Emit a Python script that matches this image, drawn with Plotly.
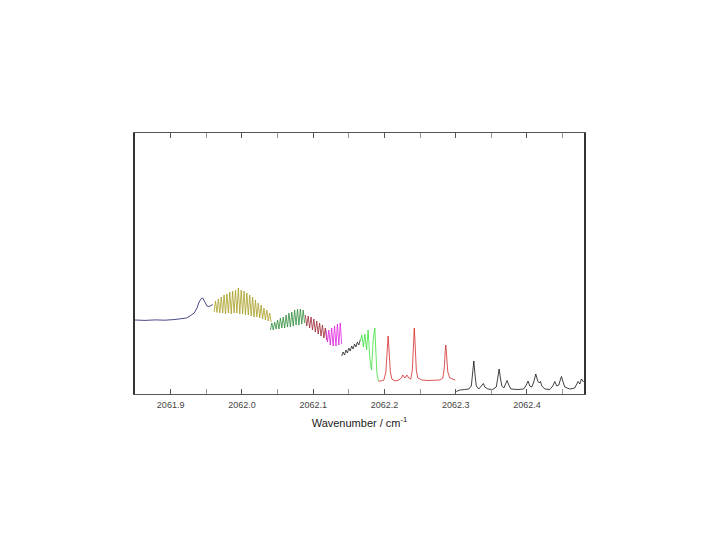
import plotly.graph_objects as go

# ---- data (wavenumber / cm-1, intensity in arbitrary units) ----
seg1_x = [2061.850, 2061.864, 2061.878, 2061.892, 2061.906, 2061.916, 2061.922, 2061.927, 2061.933,
          2061.937, 2061.940, 2061.943, 2061.945, 2061.948, 2061.951, 2061.954, 2061.957, 2061.959]
seg1_y = [0.74, 0.736, 0.741, 0.738, 0.745, 0.75, 0.76, 0.78, 0.81,
          0.86, 0.92, 0.955, 0.96, 0.92, 0.88, 0.875, 0.89, 0.895]

seg2_x = [2061.961, 2061.963, 2061.965, 2061.967, 2061.969, 2061.971, 2061.973, 2061.975, 2061.977,
          2061.979, 2061.981, 2061.983, 2061.985, 2061.987, 2061.989, 2061.991, 2061.993, 2061.995,
          2061.997, 2061.999, 2062.001, 2062.003, 2062.005, 2062.007, 2062.009, 2062.011, 2062.013,
          2062.015, 2062.017, 2062.019, 2062.021, 2062.023, 2062.025, 2062.027, 2062.029, 2062.031,
          2062.033, 2062.035, 2062.037, 2062.039, 2062.041]
seg2_y = [0.82, 0.93, 0.815, 0.95, 0.81, 0.97, 0.81, 0.99, 0.80,
          1.00, 0.81, 1.02, 0.80, 1.03, 0.81, 1.04, 0.81, 1.06,
          0.80, 1.04, 0.80, 1.03, 0.79, 1.01, 0.79, 0.99, 0.78,
          0.97, 0.77, 0.94, 0.77, 0.91, 0.76, 0.89, 0.75, 0.86,
          0.74, 0.84, 0.73, 0.81, 0.72]

seg3_x = [2062.040, 2062.042, 2062.044, 2062.046, 2062.048, 2062.050, 2062.052, 2062.054, 2062.056,
          2062.058, 2062.060, 2062.062, 2062.064, 2062.066, 2062.068, 2062.070, 2062.072, 2062.074,
          2062.076, 2062.078, 2062.080, 2062.082, 2062.084, 2062.086, 2062.088]
seg3_y = [0.64, 0.71, 0.64, 0.72, 0.65, 0.74, 0.65, 0.76, 0.66,
          0.77, 0.66, 0.79, 0.67, 0.81, 0.67, 0.82, 0.68, 0.84,
          0.69, 0.85, 0.69, 0.85, 0.70, 0.84, 0.71]

seg4_x = [2062.089, 2062.091, 2062.093, 2062.095, 2062.097, 2062.099, 2062.101, 2062.103,
          2062.105, 2062.107, 2062.109, 2062.111, 2062.113, 2062.115, 2062.117, 2062.119]
seg4_y = [0.79, 0.68, 0.78, 0.66, 0.77, 0.64, 0.75, 0.62,
          0.73, 0.60, 0.71, 0.58, 0.69, 0.56, 0.66, 0.54]

seg5_x = [2062.118, 2062.120, 2062.122, 2062.124, 2062.126, 2062.128, 2062.130, 2062.132,
          2062.134, 2062.136, 2062.138, 2062.140]
seg5_y = [0.64, 0.52, 0.64, 0.49, 0.66, 0.48, 0.68, 0.48,
          0.70, 0.49, 0.71, 0.50]

seg6_x = [2062.140, 2062.142, 2062.144, 2062.146, 2062.148, 2062.150, 2062.152, 2062.154,
          2062.156, 2062.158, 2062.160, 2062.162, 2062.164, 2062.166]
seg6_y = [0.38, 0.42, 0.39, 0.44, 0.41, 0.46, 0.43, 0.48,
          0.45, 0.50, 0.47, 0.52, 0.49, 0.54]

seg7_x = [2062.1661, 2062.1683, 2062.1704, 2062.1725, 2062.1749, 2062.1771, 2062.1795,
          2062.1819, 2062.1842, 2062.1865, 2062.1893, 2062.1914]
seg7_y = [0.53, 0.59, 0.47, 0.60, 0.44, 0.64, 0.36, 0.24, 0.54, 0.66, 0.22, 0.13]

seg8_x = [2062.1914, 2062.1950, 2062.1992, 2062.2020, 2062.2038, 2062.2052, 2062.2066, 2062.2083,
          2062.2104, 2062.2146, 2062.2202, 2062.2237, 2062.2258, 2062.2286, 2062.2314, 2062.2342,
          2062.2370, 2062.2391, 2062.2408, 2062.2419, 2062.2431, 2062.2447, 2062.2468, 2062.2525,
          2062.2609, 2062.2693, 2062.2777, 2062.2819, 2062.2840, 2062.2854, 2062.2861, 2062.2872,
          2062.2889, 2062.2917, 2062.2959, 2062.2994]
seg8_y = [0.13, 0.13, 0.14, 0.22, 0.42, 0.58, 0.42, 0.22,
          0.15, 0.13, 0.14, 0.16, 0.19, 0.16, 0.19, 0.16,
          0.15, 0.24, 0.49, 0.66, 0.49, 0.24, 0.16, 0.14,
          0.135, 0.14, 0.14, 0.16, 0.26, 0.44, 0.49, 0.39,
          0.22, 0.16, 0.15, 0.14]

seg9_x = [2062.3008, 2062.3058, 2062.3128, 2062.3184, 2062.3219, 2062.3237, 2062.3254, 2062.3271,
          2062.3289, 2062.3324, 2062.3366, 2062.3387, 2062.3408, 2062.3450, 2062.3520, 2062.3569,
          2062.3590, 2062.3609, 2062.3627, 2062.3647, 2062.3675, 2062.3703, 2062.3721, 2062.3739,
          2062.3773, 2062.3871, 2062.3955, 2062.3990, 2062.4015, 2062.4039, 2062.4067, 2062.4095,
          2062.4123, 2062.4151, 2062.4172, 2062.4189, 2062.4208, 2062.4250, 2062.4320, 2062.4362,
          2062.4390, 2062.4418, 2062.4446, 2062.4467, 2062.4484, 2062.4502, 2062.4530, 2062.4600,
          2062.4670, 2062.4699, 2062.4717, 2062.4741, 2062.4764, 2062.4783, 2062.4797]
seg9_y = [0.025, 0.04, 0.045, 0.05, 0.08, 0.19, 0.33, 0.19,
          0.08, 0.05, 0.08, 0.105, 0.07, 0.05, 0.045, 0.07,
          0.16, 0.25, 0.16, 0.08, 0.06, 0.11, 0.135, 0.10,
          0.05, 0.045, 0.05, 0.09, 0.13, 0.08, 0.07, 0.12,
          0.20, 0.13, 0.11, 0.125, 0.08, 0.05, 0.045, 0.08,
          0.125, 0.08, 0.09, 0.14, 0.175, 0.13, 0.07, 0.05,
          0.06, 0.10, 0.125, 0.10, 0.15, 0.13, 0.12]

segments = [
    (seg1_x, seg1_y, "#1c1c6e"),
    (seg2_x, seg2_y, "#a89e22"),
    (seg3_x, seg3_y, "#2e8b3a"),
    (seg4_x, seg4_y, "#9a2838"),
    (seg5_x, seg5_y, "#e020e0"),
    (seg6_x, seg6_y, "#222222"),
    (seg7_x, seg7_y, "#3ce03c"),
    (seg8_x, seg8_y, "#d42828"),
    (seg9_x, seg9_y, "#111111"),
]

x_range = [2061.85, 2062.48]
y_range = [0, 2.61]

fig = go.Figure()
for xs, ys, col in segments:
    fig.add_trace(go.Scatter(x=xs, y=ys, mode="lines",
                             line=dict(color=col, width=0.8), showlegend=False))

fig.update_layout(
    width=720, height=540,
    margin=dict(l=127, r=144, t=125, b=154),
    paper_bgcolor="white", plot_bgcolor="white",
    font=dict(family="Liberation Sans, Arial, sans-serif", color="#333"),
)
fig.update_xaxes(
    range=x_range, showgrid=False, zeroline=False,
    showline=True, linecolor="#555", linewidth=1, mirror="ticks",
    ticks="inside", ticklen=5, tickcolor="#555", tickwidth=1,
    tick0=2061.9, dtick=0.1, tickformat=".1f", ticklabelstandoff=2,
    tickfont=dict(size=9, color="#444"),
    minor=dict(ticks="inside", dtick=0.05, tick0=2061.9, ticklen=5, tickcolor="#999", tickwidth=1),
    title=dict(text="Wavenumber / cm<sup>-1</sup>", font=dict(size=11, color="#222"), standoff=10),
)
fig.update_yaxes(
    range=y_range, showgrid=False, zeroline=False, showticklabels=False,
    showline=True, linecolor="#333", linewidth=2, mirror=True, ticks="",
)

fig.write_html("out.html")
